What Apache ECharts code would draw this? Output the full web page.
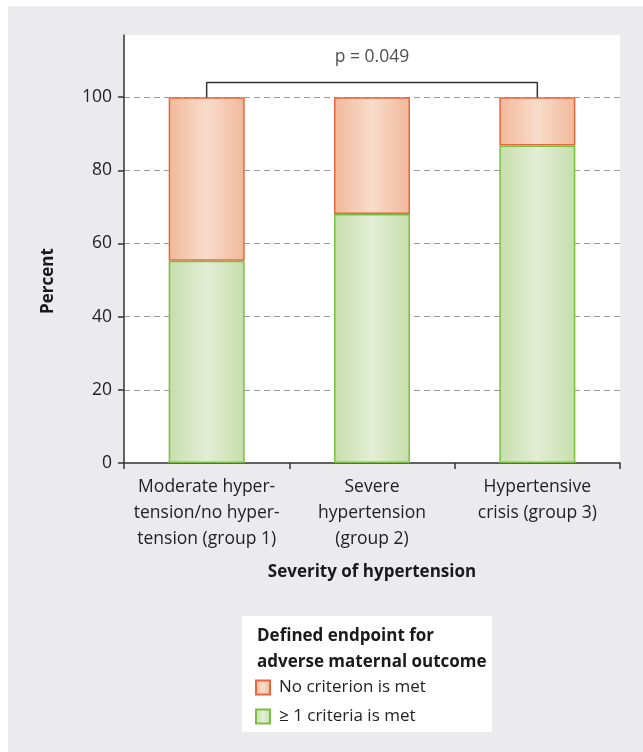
<!DOCTYPE html>
<html>
<head>
<meta charset="utf-8">
<script src="https://cdn.jsdelivr.net/npm/echarts@6/dist/echarts.min.js"></script>
<style>html,body{margin:0;padding:0;background:#fff}#c{width:643px;height:752px}</style>
</head>
<body>
<div id="c"></div>
<script>
const categories = ['Moderate hyper-\ntension/no hyper-\ntension (group 1)', 'Severe\nhypertension\n(group 2)', 'Hypertensive\ncrisis (group 3)'];
const metValues = [55.3, 68.1, 86.8];
const noneValues = [44.7, 31.9, 13.2];
const yTicks = [0, 20, 40, 60, 80, 100];
const bracketPoints = [[0, 100], [0, 104], [2, 104], [2, 100]];
const pLabelPoint = [[1, 111]];
const pLabel = 'p = 0.049';
const seriesNames = ['No criterion is met', '\u2265 1 criteria is met'];
const legendTitle = 'Defined endpoint for\nadverse maternal outcome';

const FONT = 'Open Sans';
const TXT = '#222';
const orangeGrad = {type:'linear',x:0,y:0,x2:1,y2:0,colorStops:[{offset:0,color:'#f1b89a'},{offset:0.5,color:'#f8dccb'},{offset:1,color:'#f1b89a'}]};
const greenGrad = {type:'linear',x:0,y:0,x2:1,y2:0,colorStops:[{offset:0,color:'#c6deab'},{offset:0.5,color:'#e3eed6'},{offset:1,color:'#c6deab'}]};

const chart = echarts.init(document.getElementById('c'), null, {renderer:'canvas'});
chart.setOption({
  backgroundColor: '#ebebed',
  animation: false,
  textStyle: {fontFamily: FONT},
  graphic: [
    {type:'rect', shape:{x:0,y:0,width:643,height:6}, style:{fill:'#fff'}, silent:true},
    {type:'rect', shape:{x:0,y:0,width:8,height:752}, style:{fill:'#fff'}, silent:true},
    {type:'rect', shape:{x:242,y:616,width:250,height:116}, style:{fill:'#fff'}, silent:true, z:-1},
    {type:'text', x:48, y:281, rotation:Math.PI/2, style:{text:'Percent', fontFamily:FONT, fontWeight:'bold', fontSize:17, fill:'#1a1a1a', align:'center', verticalAlign:'middle'}, silent:true}
  ],
  title: {
    text: legendTitle, left: 252, top: 618,
    textStyle: {fontFamily: FONT, fontWeight:'bold', fontSize:17, color:'#1a1a1a', lineHeight:26}
  },
  legend: {
    orient:'vertical', left: 250, top: 674,
    data: seriesNames,
    itemWidth: 14, itemHeight: 14, itemGap: 12,
    icon: 'rect',
    textStyle: {fontFamily: FONT, fontSize:17, color:TXT, padding:[0,0,0,4]}
  },
  grid: {left:124, right:23, top:35, bottom:289, show:true, backgroundColor:'#fff', borderWidth:0},
  xAxis: {
    type:'category', data: categories,
    axisLine:{lineStyle:{color:'#333', width:1.5}},
    axisTick:{show:true, length:6, lineStyle:{color:'#333', width:1.5}},
    axisLabel:{fontFamily:FONT, fontSize:17.5, color:TXT, lineHeight:26, margin:11, interval:0},
    name:'Severity of hypertension', nameLocation:'middle', nameGap:101,
    nameTextStyle:{fontFamily:FONT, fontWeight:'bold', fontSize:17, color:'#1a1a1a'}
  },
  yAxis: {
    type:'value', min:0, max:117, interval:20,
    axisLine:{show:true, lineStyle:{color:'#333', width:1.5}},
    axisTick:{show:true, length:6, lineStyle:{color:'#333', width:1.5}, customValues: yTicks},
    axisLabel:{fontFamily:FONT, fontSize:17.5, color:TXT, margin:12, customValues: yTicks},
    splitLine:{show:true, showMinLine:false, showMaxLine:true, lineStyle:{color:'#9a9a9a', width:1.2, type:[6,4]}}
  },
  series: [
    {name: seriesNames[1], type:'bar', stack:'s', data: metValues, barWidth:76, z:3,
     itemStyle:{color: greenGrad, borderColor:'#7cbf45', borderWidth:1.5}},
    {name: seriesNames[0], type:'bar', stack:'s', data: noneValues, barWidth:76, z:2,
     itemStyle:{color: orangeGrad, borderColor:'#e8673d', borderWidth:1.5}},
    {type:'line', data: bracketPoints, symbol:'none', silent:true, z:4,
     lineStyle:{color:'#333', width:1.5}},
    {type:'scatter', data: pLabelPoint, symbolSize:0, silent:true,
     label:{show:true, position:'inside', formatter: pLabel, fontFamily:FONT, fontSize:17.5, color:TXT}}
  ]
});
</script>
</body>
</html>
